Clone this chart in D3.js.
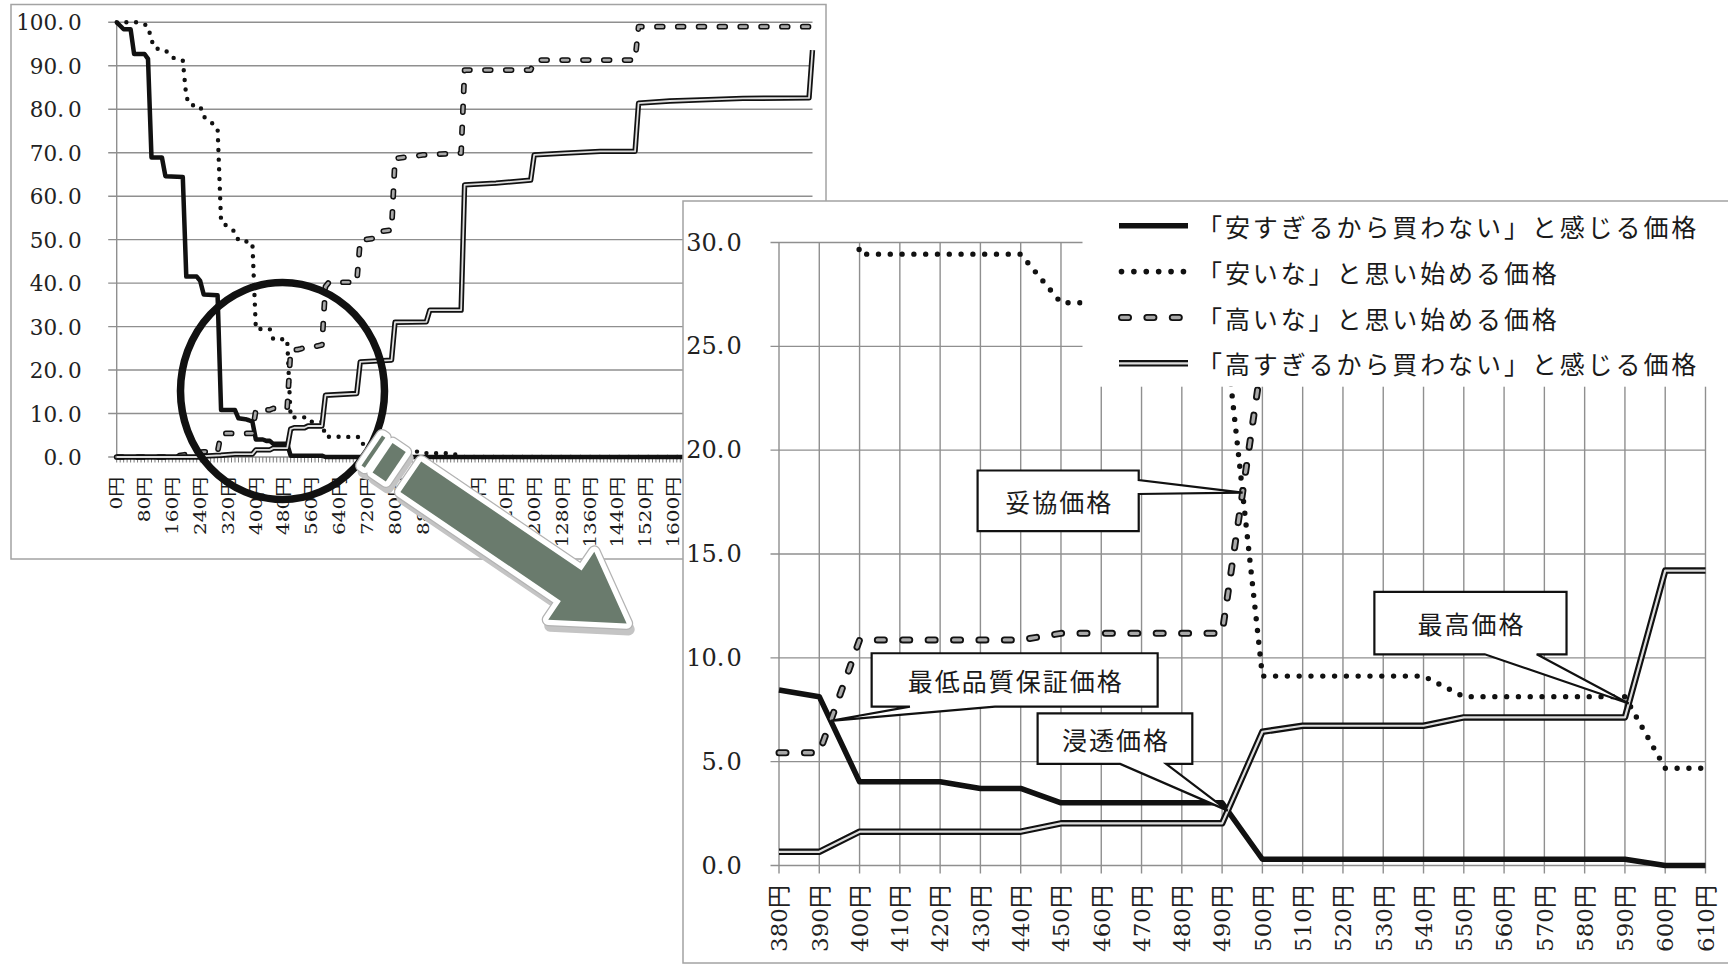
<!DOCTYPE html>
<html>
<head>
<meta charset="utf-8">
<script src="https://cdn.jsdelivr.net/npm/d3@7"></script>
<style>
  html, body { margin: 0; padding: 0; background: #fff; }
  svg { display: block; }
</style>
</head>
<body>
<svg id="chart" width="1728" height="965"></svg>
<script>
// ---- Series names (legend) ----
const seriesNames = [
  "「安すぎるから買わない」と感じる価格",
  "「安いな」と思い始める価格",
  "「高いな」と思い始める価格",
  "「高すぎるから買わない」と感じる価格"
];

// ---- Full price range, 0円–2000円: [price, % of respondents] ----
const tooCheapAll = [[0,100],[10,99.2],[20,98.4],[40,98.4],[50,92.7],[80,92.7],[90,91.6],[100,68.9],[130,68.9],[140,64.6],[190,64.4],[200,41.5],[230,41.5],[240,40.5],[250,37.4],[290,37.2],[300,10.8],[340,10.8],[350,8.9],[370,8.7],[380,8.45],[390,8.13],[400,4.03],[420,4.03],[430,3.71],[440,3.71],[450,3.02],[490,3.02],[500,0.3],[590,0.3],[600,0],[2000,0]];
const cheapAll = [[0,100],[60,100],[80,99.5],[90,99.1],[100,95.9],[110,94.0],[140,93.6],[160,91.9],[190,91.2],[200,82.9],[210,81.0],[240,80.7],[250,78.3],[270,77.1],[290,75.6],[300,54.1],[320,53.0],[340,51.8],[350,49.8],[380,49.5],[390,49.2],[400,29.44],[440,29.44],[450,27.1],[490,27.1],[500,9.12],[540,9.12],[550,8.13],[590,8.13],[600,4.68],[700,4.6],[710,2.6],[790,2.6],[800,1.4],[880,1.2],[890,0.9],[950,0.85],[960,0.6],[990,0.5],[1000,0],[2000,0]];
const expensiveAll = [[0,0],[170,0],[180,0.3],[230,1.0],[250,1.2],[290,1.2],[300,5.43],[390,5.43],[400,10.86],[440,10.86],[450,11.18],[490,11.18],[500,24.5],[510,24.7],[520,24.7],[530,24.9],[540,25.2],[550,25.4],[570,25.4],[580,25.6],[590,25.8],[600,39.2],[610,40.2],[690,40.2],[700,49.9],[740,50.3],[750,51.8],[790,52.2],[800,68.7],[850,69.1],[880,69.5],[930,69.7],[990,69.9],[1000,89.0],[1190,89.0],[1200,91.0],[1210,91.3],[1490,91.3],[1500,99.0],[2000,99.0]];
const tooExpensiveAll = [[0,0],[240,0],[250,0.2],[300,0.4],[340,0.66],[390,0.66],[400,1.63],[440,1.63],[450,2.03],[490,2.03],[500,6.44],[510,6.73],[540,6.73],[550,7.13],[590,7.13],[600,14.2],[690,14.6],[700,21.9],[790,22.3],[800,31.0],[890,31.1],[900,33.8],[990,33.8],[1000,62.6],[1090,63.0],[1190,63.7],[1200,69.5],[1290,69.9],[1390,70.3],[1490,70.3],[1500,81.4],[1590,81.9],[1700,82.2],[1800,82.5],[1990,82.6],[2000,93.6]];
const fullTickLabels = [0,80,160,240,320,400,480,560,640,720,800,880,960,1040,1120,1200,1280,1360,1440,1520,1600,1680,1760,1840,1920,2000];
const fullYTicks = [0,10,20,30,40,50,60,70,80,90,100];

// ---- Close-up, 380円–610円 ----
const zoomCats = [380,390,400,410,420,430,440,450,460,470,480,490,500,510,520,530,540,550,560,570,580,590,600,610];
const zoomTooCheap     = [8.45,8.13,4.03,4.03,4.03,3.71,3.71,3.02,3.02,3.02,3.02,3.02,0.30,0.30,0.30,0.30,0.30,0.30,0.30,0.30,0.30,0.30,0.00,0.00];
const zoomCheap        = [49.5,49.2,29.44,29.44,29.44,29.44,29.44,27.1,27.1,27.1,27.1,27.1,9.12,9.12,9.12,9.12,9.12,8.13,8.13,8.13,8.13,8.13,4.68,4.68];
const zoomExpensive    = [5.43,5.43,10.86,10.86,10.86,10.86,10.86,11.18,11.18,11.18,11.18,11.18,24.5,24.7,24.7,24.9,25.2,25.4,25.4,25.4,25.6,25.8,39.2,40.2];
const zoomTooExpensive = [0.66,0.66,1.63,1.63,1.63,1.63,1.63,2.03,2.03,2.03,2.03,2.03,6.44,6.73,6.73,6.73,6.73,7.13,7.13,7.13,7.13,7.13,14.2,14.2];
const zoomYTicks = [0,5,10,15,20,25,30];

// Callouts: which two series cross, box extent [price0, price1, value0, value1], wedge base
const callouts = [
  { label: "妥協価格",         pair: [1, 2], box: [429.3, 469.3, 19.02, 16.10], side: "right",  base: [18.56, 17.89] },
  { label: "最低品質保証価格", pair: [0, 2], box: [403.0, 474.0, 10.22, 7.65],  side: "bottom", base: [412.5, 433.6] },
  { label: "浸透価格",         pair: [0, 3], box: [444.2, 482.6, 7.33, 4.89],   side: "bottom", base: [464.7, 476.1] },
  { label: "最高価格",         pair: [1, 3], box: [527.8, 575.5, 13.18, 10.17], side: "bottom", base: [555.2, 568.1] }
];

// ---- Shared look ----
const GRID = "#8f8f8f";
const FRAME = "#a3a3a3";
const INK = "#111";
const NUM_FONT = "'DejaVu Serif', 'Noto Sans CJK JP', serif";
const JP_FONT = "'Noto Sans CJK JP', sans-serif";

// Line styles as stacked strokes; k scales widths for the small chart
function lineStyle(kind, k) {
  switch (kind) {
    case "solid":  return [{ c: INK, w: 5.5 * k }];
    case "dotted": return [{ c: INK, w: 5.4 * k, dash: `0 ${11.8 * k}`, cap: "round" }];
    case "dashed": return [
      { c: INK, w: 7 * k, dash: `${7 * k} ${18.4 * k}`, cap: "round" },
      { c: "#a9a9a9", w: 3.3 * k, dash: `${7 * k} ${18.4 * k}`, cap: "round" }
    ];
    case "double": return [{ c: INK, w: 6.5 * k }, { c: "#dedede", w: 2.2 * k }];
  }
}
const kinds = ["solid", "dotted", "dashed", "double"];

function drawLine(g, d, kind, k) {
  lineStyle(kind, k).forEach(s => {
    g.append("path")
      .attr("d", d)
      .attr("fill", "none")
      .attr("stroke", s.c)
      .attr("stroke-width", s.w)
      .attr("stroke-linejoin", "round")
      .attr("stroke-linecap", s.cap || "butt")
      .attr("stroke-dasharray", s.dash || null);
  });
}

function numLabel(sel, v, gap) {
  const [a, b] = d3.format(".1f")(v).split(".");
  sel.append("tspan").text(a + ".");
  sel.append("tspan").attr("dx", gap).text(b);
}

const svg = d3.select("#chart");
svg.append("rect").attr("width", 1728).attr("height", 965).attr("fill", "#fff");

// =====================  Full-range chart  =====================
const full = svg.append("g");
full.append("rect")
  .attr("x", 11).attr("y", 4.5).attr("width", 815).attr("height", 554.5)
  .attr("fill", "#fff").attr("stroke", FRAME).attr("stroke-width", 1.5);

const xAll = d3.scaleLinear().domain([0, 2000]).range([116.7, 812.5]);
const yAll = d3.scaleLinear().domain([0, 100]).range([457, 22.3]);

full.selectAll("line.hg").data(fullYTicks).join("line")
  .attr("x1", xAll(0) - 8.5).attr("x2", xAll(2000))
  .attr("y1", d => yAll(d)).attr("y2", d => yAll(d))
  .attr("stroke", GRID).attr("stroke-width", 1.4);
full.append("line")
  .attr("x1", xAll(0)).attr("x2", xAll(0)).attr("y1", yAll(100)).attr("y2", yAll(0))
  .attr("stroke", GRID).attr("stroke-width", 1.4);

full.selectAll("text.yl").data(fullYTicks).join("text")
  .attr("x", 81.7).attr("y", d => yAll(d))
  .attr("text-anchor", "end").attr("dominant-baseline", "central")
  .attr("font-family", NUM_FONT).attr("font-size", 21.5).attr("fill", "#222")
  .each(function (d) { numLabel(d3.select(this), d, 4); });

// one tick per 10円 category
full.selectAll("line.ct").data(d3.range(0, 2001, 10)).join("line")
  .attr("x1", d => xAll(d)).attr("x2", d => xAll(d))
  .attr("y1", yAll(0)).attr("y2", yAll(0) + 5.5)
  .attr("stroke", "#7a7a7a").attr("stroke-width", 1);

full.selectAll("text.xl").data(fullTickLabels).join("text")
  .attr("transform", d => `translate(${xAll(d)},476.7) rotate(-90) scale(1,0.8)`)
  .attr("text-anchor", "end").attr("dy", "0.36em")
  .attr("font-family", NUM_FONT).attr("font-size", 20).attr("fill", "#1a1a1a")
  .text(d => d + "円");

const lineAll = d3.line().x(d => xAll(d[0])).y(d => yAll(d[1]));
[tooCheapAll, cheapAll, expensiveAll, tooExpensiveAll].forEach((s, i) => {
  drawLine(full, lineAll(s), kinds[i], 0.82);
});

// ring around the 380円–610円 region
svg.append("ellipse")
  .attr("cx", 282.5).attr("cy", 391).attr("rx", 102).attr("ry", 108.5)
  .attr("fill", "none").attr("stroke", INK).attr("stroke-width", 7.5);

// =====================  Pointer arrow  =====================
(function drawArrow() {
  const ox = 410.8, oy = 476.7, ang = 34.2 * Math.PI / 180;
  const ux = Math.cos(ang), uy = Math.sin(ang);
  const nx = -uy, ny = ux;
  const P = ([a, b]) => [ox + a * ux + b * nx, oy + a * uy + b * ny];
  const shapes = [
    [[-47, -18], [-43, -18], [-43, 18.5], [-47, 18.5]],
    [[-34, -17.5], [-18, -17.5], [-18, 18], [-34, 18]],
    [[0, -18.5], [194, -18.5], [194, -41], [261, 0], [194, 41], [194, 18.5], [0, 18.5]]
  ].map(s => s.map(P));
  const g = svg.append("g");
  const poly = d3.line();
  shapes.forEach(s => g.append("path").attr("d", poly(s) + "Z")
    .attr("transform", "translate(2,6)")
    .attr("fill", "#c4c4c4").attr("stroke", "#c4c4c4").attr("stroke-width", 12)
    .attr("stroke-linejoin", "round"));
  shapes.forEach(s => g.append("path").attr("d", poly(s) + "Z")
    .attr("fill", "#fff").attr("stroke", "#b3b3b3").attr("stroke-width", 13)
    .attr("stroke-linejoin", "round"));
  shapes.forEach(s => g.append("path").attr("d", poly(s) + "Z")
    .attr("fill", "#fff").attr("stroke", "#fff").attr("stroke-width", 10.5)
    .attr("stroke-linejoin", "round"));
  shapes.forEach(s => g.append("path").attr("d", poly(s) + "Z")
    .attr("fill", "#6a7b6d"));
})();

// =====================  Close-up chart  =====================
const zoom = svg.append("g");
zoom.append("rect")
  .attr("x", 683).attr("y", 201).attr("width", 1100).attr("height", 762)
  .attr("fill", "#fff").attr("stroke", FRAME).attr("stroke-width", 1.5);

const xIn = d3.scaleLinear().domain([380, 610]).range([779, 1705.5]);
const yIn = d3.scaleLinear().domain([0, 30]).range([865.5, 242.5]);

zoom.selectAll("line.hg").data(zoomYTicks).join("line")
  .attr("x1", xIn(380) - 8.5).attr("x2", xIn(610))
  .attr("y1", d => yIn(d)).attr("y2", d => yIn(d))
  .attr("stroke", GRID).attr("stroke-width", 1.4);
zoom.selectAll("line.vg").data(zoomCats).join("line")
  .attr("x1", d => xIn(d)).attr("x2", d => xIn(d))
  .attr("y1", yIn(30)).attr("y2", yIn(0) + 8)
  .attr("stroke", GRID).attr("stroke-width", 1.4);

zoom.selectAll("text.yl").data(zoomYTicks).join("text")
  .attr("x", 741.7).attr("y", d => yIn(d))
  .attr("text-anchor", "end").attr("dominant-baseline", "central")
  .attr("font-family", NUM_FONT).attr("font-size", 24).attr("fill", "#222")
  .each(function (d) { numLabel(d3.select(this), d, 2); });

zoom.selectAll("text.xl").data(zoomCats).join("text")
  .attr("transform", d => `translate(${xIn(d)},885) rotate(-90)`)
  .attr("text-anchor", "end").attr("dy", "0.36em")
  .attr("font-family", NUM_FONT).attr("font-size", 23).attr("fill", "#222")
  .text(d => d + "円");

svg.append("defs").append("clipPath").attr("id", "plotClip")
  .append("rect").attr("x", 690).attr("y", yIn(30)).attr("width", 1100).attr("height", 640);

const zoomSeries = [zoomTooCheap, zoomCheap, zoomExpensive, zoomTooExpensive];
const lineIn = d3.line().x((d, i) => xIn(zoomCats[i])).y(d => yIn(d));
const plot = zoom.append("g").attr("clip-path", "url(#plotClip)");
zoomSeries.forEach((s, i) => drawLine(plot, lineIn(s), kinds[i], 1));

// legend (white panel over the upper right of the plot)
const legend = zoom.append("g");
legend.append("rect").attr("x", 1082.5).attr("y", 206).attr("width", 700).attr("height", 180.7).attr("fill", "#fff");
const legendRowY = [225.7, 271.6, 317.5, 363.3];
seriesNames.forEach((name, i) => {
  const y = legendRowY[i];
  const x0 = (kinds[i] === "solid" || kinds[i] === "double") ? 1119 : 1121.5;
  const x1 = (kinds[i] === "solid" || kinds[i] === "double") ? 1188 : 1183.6;
  drawLine(legend, d3.line()([[x0, y], [x1, y]]), kinds[i], kinds[i] === "dotted" ? 1.05 : 1);
  legend.append("text")
    .attr("x", 1197).attr("y", y)
    .attr("dominant-baseline", "central")
    .attr("font-family", JP_FONT).attr("font-size", 25).attr("letter-spacing", 2.9)
    .attr("fill", "#1a1a1a")
    .text(name);
});

// crossing point of two series between neighbouring categories
function crossing(a, b) {
  for (let i = 0; i < zoomCats.length - 1; i++) {
    const d0 = a[i] - b[i], d1 = a[i + 1] - b[i + 1];
    if (d0 * d1 < 0) {
      const t = d0 / (d0 - d1);
      return {
        x: xIn(zoomCats[i] + t * (zoomCats[i + 1] - zoomCats[i])),
        y: yIn(a[i] + t * (a[i + 1] - a[i]))
      };
    }
  }
  return null;
}

function calloutPath(c, tip) {
  const x0 = xIn(c.box[0]), x1 = xIn(c.box[1]), y0 = yIn(c.box[2]), y1 = yIn(c.box[3]);
  const p = d3.path();
  p.moveTo(x0, y0); p.lineTo(x1, y0);
  if (c.side === "right") {
    p.lineTo(x1, yIn(c.base[0])); p.lineTo(tip.x, tip.y); p.lineTo(x1, yIn(c.base[1]));
  }
  p.lineTo(x1, y1);
  if (c.side === "bottom") {
    p.lineTo(xIn(c.base[1]), y1); p.lineTo(tip.x, tip.y); p.lineTo(xIn(c.base[0]), y1);
  }
  p.lineTo(x0, y1); p.closePath();
  return p.toString();
}

callouts.forEach(c => {
  const tip = crossing(zoomSeries[c.pair[0]], zoomSeries[c.pair[1]]);
  const g = zoom.append("g");
  g.append("path").attr("d", calloutPath(c, tip))
    .attr("fill", "#fff").attr("stroke", INK).attr("stroke-width", 2.2)
    .attr("stroke-linejoin", "miter");
  g.append("text")
    .attr("x", (xIn(c.box[0]) + xIn(c.box[1])) / 2 + 1)
    .attr("y", (yIn(c.box[2]) + yIn(c.box[3])) / 2)
    .attr("text-anchor", "middle").attr("dominant-baseline", "central")
    .attr("font-family", JP_FONT).attr("font-size", 25).attr("letter-spacing", 2)
    .attr("fill", "#1a1a1a")
    .text(c.label);
});
</script>
</body>
</html>
